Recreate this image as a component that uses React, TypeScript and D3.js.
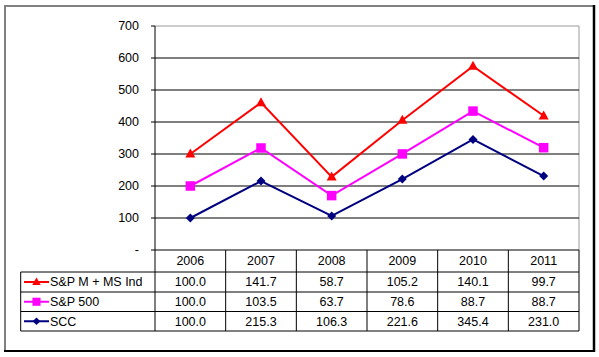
import React from 'react';
import * as d3 from 'd3';

const categories = ['2006', '2007', '2008', '2009', '2010', '2011'];
const seriesNames = ['S&P M + MS Ind', 'S&P 500', 'SCC'];
const mmsInd = [100.0, 141.7, 58.7, 105.2, 140.1, 99.7];
const sp500 = [100.0, 103.5, 63.7, 78.6, 88.7, 88.7];
const scc = [100.0, 215.3, 106.3, 221.6, 345.4, 231.0];
const yTicks = [0, 100, 200, 300, 400, 500, 600, 700];
const colors = ['#FF0000', '#FF00FF', '#000080'];
const markers = ['triangle', 'square', 'diamond'];

const W = 599, H = 357;
const plotL = 155, plotR = 579, plotT = 26, plotB = 250;
const tableL = 20.7;
const rowYs = [250, 272, 292, 311.5, 331];
const FONT = '"Liberation Sans", Arial, sans-serif';
const FS = 12.5;

function Marker({ type, x, y, color, s = 1 }: { type: string; x: number; y: number; color: string; s?: number }) {
  if (type === 'triangle') {
    const h = 9 * s, w = 10 * s;
    return <path d={`M${x},${y - h * 0.6}L${x + w / 2},${y + h * 0.4}L${x - w / 2},${y + h * 0.4}Z`} fill={color} />;
  }
  if (type === 'square') {
    const a = 9.5 * s;
    return <rect x={x - a / 2} y={y - a / 2} width={a} height={a} fill={color} />;
  }
  const r = 4.5 * s;
  return <path d={`M${x},${y - r}L${x + r},${y}L${x},${y + r}L${x - r},${y}Z`} fill={color} />;
}

export default function App() {
  const x = d3.scaleBand<string>().domain(categories).range([plotL, plotR]);
  const y = d3.scaleLinear().domain([0, 700]).range([plotB, plotT]);
  const rows = categories.map((c, i) => ({ cat: c, scc: scc[i], sp500: sp500[i], mms: mmsInd[i] }));
  const stack = d3.stack<any>().keys(['scc', 'sp500', 'mms'])(rows);
  // stack order: scc, sp500, mms -> map to series index 2,1,0
  const stackToSeries = [2, 1, 0];
  const line = d3.line<[number, number]>().x((d) => d[0]).y((d) => d[1]);
  const tableValues = [mmsInd, sp500, scc];
  const cx = (c: string) => (x(c) as number) + x.bandwidth() / 2;

  return (
    <svg width={W} height={H} style={{ position: 'absolute', left: 0, top: 0, background: '#fff' }}>
      <rect x={0} y={0} width={W} height={H} fill="#fff" />
      {/* outer frame */}
      <line x1={5} y1={6} x2={594} y2={6} stroke="#808080" strokeWidth={2} />
      <line x1={5} y1={5} x2={5} y2={351} stroke="#808080" strokeWidth={2} />
      <line x1={594} y1={5} x2={594} y2={352} stroke="#000" strokeWidth={2.5} />
      <line x1={4} y1={351} x2={595} y2={351} stroke="#000" strokeWidth={2} />

      {/* plot border */}
      <line x1={plotL} y1={plotT} x2={plotR} y2={plotT} stroke="#9a9a9a" strokeWidth={1} />
      <line x1={plotR} y1={plotT} x2={plotR} y2={plotB} stroke="#9a9a9a" strokeWidth={1} />

      {/* gridlines and y ticks */}
      {yTicks.map((t) => (
        <g key={t}>
          {t > 0 && t < 700 && (
            <line x1={plotL} x2={plotR} y1={y(t)} y2={y(t)} stroke="#000" strokeWidth={1} />
          )}
          <line x1={151} x2={plotL} y1={y(t)} y2={y(t)} stroke="#000" strokeWidth={1} />
          <text x={139} y={y(t)} dy="0.35em" textAnchor="end" fontFamily={FONT} fontSize={FS} fill="#000">
            {t === 0 ? '-' : String(t)}
          </text>
        </g>
      ))}
      <line x1={plotL} x2={plotL} y1={plotT} y2={rowYs[4]} stroke="#000" strokeWidth={1} />

      {/* table */}
      <line x1={plotL} x2={plotR} y1={rowYs[0]} y2={rowYs[0]} stroke="#000" strokeWidth={1} />
      {rowYs.slice(1).map((ry, i) => (
        <line key={i} x1={tableL} x2={plotR} y1={ry} y2={ry} stroke="#000" strokeWidth={1} />
      ))}
      <line x1={tableL} x2={tableL} y1={rowYs[1]} y2={rowYs[4]} stroke="#000" strokeWidth={1} />
      {categories.map((c) => (
        <line key={c} x1={(x(c) as number) + x.bandwidth()} x2={(x(c) as number) + x.bandwidth()} y1={rowYs[0]} y2={rowYs[4]} stroke="#000" strokeWidth={1} />
      ))}
      {categories.map((c) => (
        <text key={c} x={cx(c)} y={(rowYs[0] + rowYs[1]) / 2} dy="0.35em" textAnchor="middle" fontFamily={FONT} fontSize={FS} fill="#000">
          {c}
        </text>
      ))}
      {seriesNames.map((name, si) => {
        const ry = (rowYs[si + 1] + rowYs[si + 2]) / 2;
        return (
          <g key={name}>
            <line x1={24} x2={49} y1={ry} y2={ry} stroke={colors[si]} strokeWidth={2} />
            <Marker type={markers[si]} x={36.5} y={ry} color={colors[si]} s={0.85} />
            <text x={50} y={ry} dy="0.35em" fontFamily={FONT} fontSize={FS} fill="#000">
              {name}
            </text>
            {categories.map((c, ci) => (
              <text key={c} x={cx(c)} y={ry} dy="0.35em" textAnchor="middle" fontFamily={FONT} fontSize={FS} fill="#000">
                {tableValues[si][ci].toFixed(1)}
              </text>
            ))}
          </g>
        );
      })}

      {/* stacked lines */}
      {stack.map((layer, li) => {
        const si = stackToSeries[li];
        const pts: [number, number][] = layer.map((d, i) => [cx(categories[i]), y(d[1])]);
        return (
          <g key={li}>
            <path d={line(pts) as string} fill="none" stroke={colors[si]} strokeWidth={2} />
            {pts.map((p, i) => (
              <Marker key={i} type={markers[si]} x={p[0]} y={p[1]} color={colors[si]} />
            ))}
          </g>
        );
      })}
    </svg>
  );
}
